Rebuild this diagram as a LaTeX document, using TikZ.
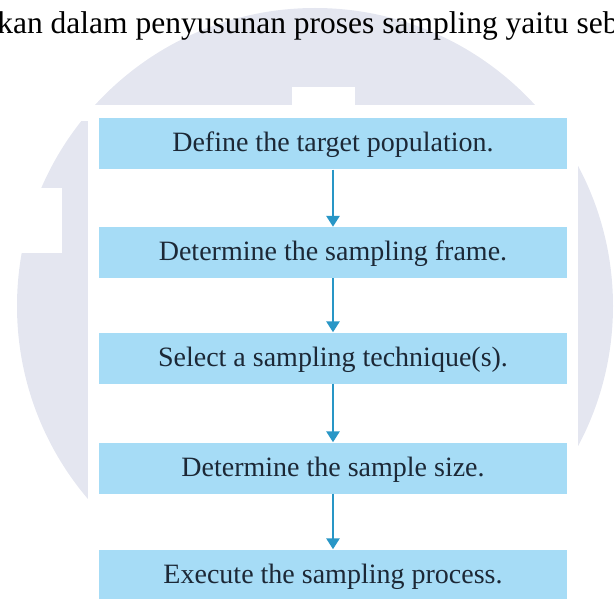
\documentclass[tikz,border=0pt]{standalone}
\usepackage{fontspec}
\setmainfont{Liberation Serif}
\usetikzlibrary{arrows.meta}
\definecolor{stepblue}{RGB}{166,220,246}
\definecolor{arrowblue}{RGB}{40,150,198}
\definecolor{steptext}{RGB}{28,40,54}
\definecolor{logogray}{RGB}{228,230,240}

\begin{document}
\begin{tikzpicture}[x=1pt,y=-1pt,
  stepbox/.style={fill=stepblue, minimum width=468pt, minimum height=51pt, inner sep=0pt, text height=16pt, text depth=0pt, text=steptext, font=\fontsize{28}{30}\selectfont},
  flow/.style={arrowblue, line width=2.8pt, -{Triangle[width=13pt,length=11pt]}}]

\useasboundingbox (0,0) rectangle (614,599);
\clip (0,0) rectangle (614,599);

\fill[logogray] (315,306) circle (298pt);
\fill[white] (0,188) rectangle (62,253);
\fill[white] (0,103) rectangle (88,121);
\fill[white] (292,87) rectangle (355,105);
\fill[white] (88,105) rectangle (578,599);

\node[anchor=base east, font=\fontsize{31.5}{34}\selectfont] (intro) at (622,34) {kan dalam penyusunan proses sampling yaitu seb};

\foreach \y/\txt [count=\i] in {144/Define the target population., 252.5/Determine the sampling frame., 358/Select a sampling technique(s)., 468/Determine the sample size., 575/Execute the sampling process.} {
  \node[stepbox] (s\i) at (333,\y) {\txt};
}

\foreach \i/\j in {1/2,2/3,3/4,4/5}
  \draw[flow] (s\i) -- (s\j);

\end{tikzpicture}
\end{document}
